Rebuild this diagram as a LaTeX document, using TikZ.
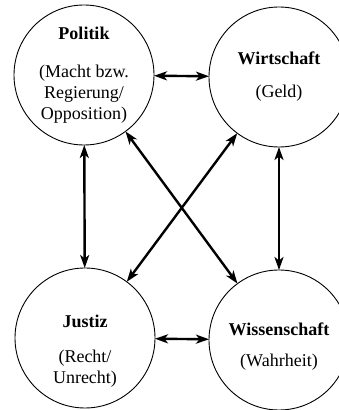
\documentclass[tikz,border=0pt]{standalone}
\usepackage{fontspec}
\setmainfont{Liberation Serif}
\usetikzlibrary{arrows.meta}

\tikzset{
  sphere/.style={draw, circle, line width=0.9pt, minimum size=140pt, inner sep=0pt, outer sep=0pt, align=center, font=\fontsize{18}{21}\selectfont},
  link/.style={line width=2.4pt, {Stealth[length=13pt,width=9pt,inset=3.5pt]}-{Stealth[length=13pt,width=9pt,inset=3.5pt]}}
}

\begin{document}
\begin{tikzpicture}[x=1pt,y=1pt]
\clip (0,0) rectangle (339,410);

\node[sphere] (politik) at (84,335) {\textbf{Politik}\\[17pt](Macht bzw.\\Regierung/\\Opposition)};
\node[sphere] (wirtschaft) at (279,333) {\textbf{Wirtschaft}\\[12pt](Geld)};
\node[sphere] (justiz) at (85,72) {\rule{0pt}{38pt}\textbf{Justiz}\\[14pt](Recht/\\Unrecht)};
\node[sphere] (wissenschaft) at (279,70) {\rule{0pt}{26pt}\textbf{Wissenschaft}\\[10pt](Wahrheit)};

\draw[link] (politik) -- (wirtschaft);
\draw[link] (justiz) -- (wissenschaft);
\draw[link] (politik) -- (justiz);
\draw[link] (wirtschaft) -- (wissenschaft);
\draw[link] (politik) -- (wissenschaft);
\draw[link] (wirtschaft) -- (justiz);
\end{tikzpicture}
\end{document}
